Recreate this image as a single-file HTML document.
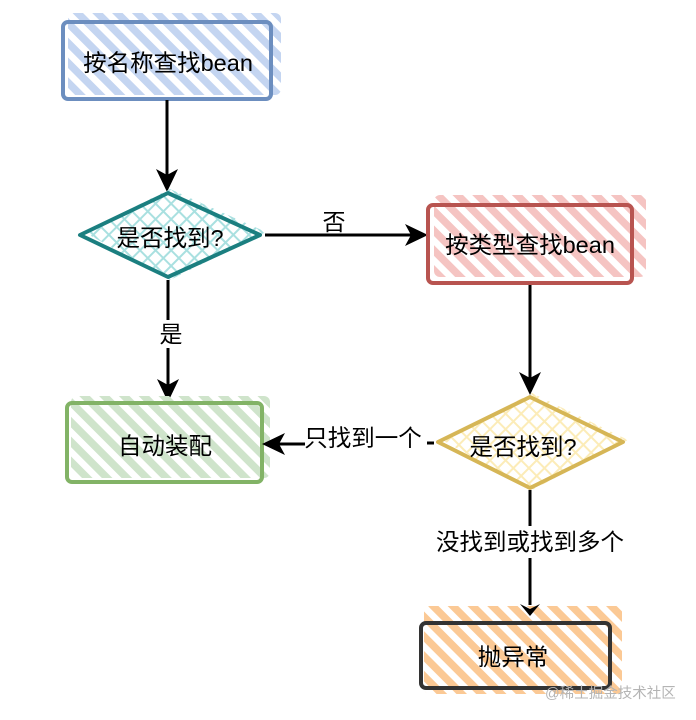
<!DOCTYPE html>
<html>
<head>
<meta charset="utf-8">
<style>
html,body{margin:0;padding:0;background:#fff;}
svg{display:block;}
text{font-family:"Liberation Sans","Noto Sans CJK SC",sans-serif;fill:#000;}
</style>
</head>
<body>
<svg width="696" height="720" viewBox="0 0 696 720" xmlns="http://www.w3.org/2000/svg">
<defs>
  <pattern id="pBlue" patternUnits="userSpaceOnUse" width="14" height="14" patternTransform="rotate(-45)">
    <rect x="0" y="0" width="7.5" height="14" fill="#c4d5f1"/>
  </pattern>
  <pattern id="pRed" patternUnits="userSpaceOnUse" width="14" height="14" patternTransform="rotate(-45)">
    <rect x="0" y="0" width="7.5" height="14" fill="#f5c4c2"/>
  </pattern>
  <pattern id="pGreen" patternUnits="userSpaceOnUse" width="14" height="14" patternTransform="rotate(-45)">
    <rect x="0" y="0" width="7.5" height="14" fill="#cfe4cb"/>
  </pattern>
  <pattern id="pOrange" patternUnits="userSpaceOnUse" width="14" height="14" patternTransform="rotate(-45)">
    <rect x="0" y="0" width="7.5" height="14" fill="#fbc995"/>
  </pattern>
  <pattern id="pTeal" patternUnits="userSpaceOnUse" width="11" height="11" patternTransform="rotate(45)">
    <rect x="0" y="0" width="2" height="11" fill="#a9e0e0"/>
    <rect x="0" y="0" width="11" height="2" fill="#a9e0e0"/>
  </pattern>
  <pattern id="pYellow" patternUnits="userSpaceOnUse" width="11" height="11" patternTransform="rotate(45)">
    <rect x="0" y="0" width="2" height="11" fill="#fcecb8"/>
    <rect x="0" y="0" width="11" height="2" fill="#fcecb8"/>
  </pattern>
</defs>

<!-- Box 1: 按名称查找bean -->
<rect x="68" y="13" width="213" height="82" rx="6" fill="url(#pBlue)"/>
<rect x="63" y="22" width="208" height="77" rx="5" fill="none" stroke="#6c8ebf" stroke-width="4"/>
<text x="168" y="63" font-size="23.5" text-anchor="middle" dominant-baseline="central">按名称查找bean</text>

<!-- Arrow 1 down -->
<line x1="167" y1="100" x2="167" y2="180" stroke="#000" stroke-width="3"/>
<polygon points="167,192 156,169 167,175 178,169" fill="#000"/>

<!-- Diamond 1 -->
<polygon points="170,189 266,232 170,280 84,232" fill="url(#pTeal)"/>
<polygon points="168,193 260,235 168,277 80,235" fill="none" stroke="#1b7f80" stroke-width="4" stroke-linejoin="round"/>
<text x="170" y="238" font-size="23.5" text-anchor="middle" dominant-baseline="central">是否找到?</text>

<!-- Arrow 否 -->
<line x1="265" y1="235" x2="415" y2="235" stroke="#000" stroke-width="3"/>
<polygon points="428,235 405,224 411,235 405,246" fill="#000"/>
<text x="334" y="222" font-size="23" text-anchor="middle" dominant-baseline="central">否</text>

<!-- Red box -->
<rect x="434" y="195" width="212" height="82" rx="6" fill="url(#pRed)"/>
<rect x="428" y="205" width="204" height="78" rx="5" fill="none" stroke="#b85450" stroke-width="4"/>
<text x="530" y="245" font-size="23.5" text-anchor="middle" dominant-baseline="central">按类型查找bean</text>

<!-- Arrow 是 down -->
<line x1="168" y1="280" x2="168" y2="390" stroke="#000" stroke-width="3"/>
<rect x="158" y="320" width="24" height="28" fill="#fff"/>
<text x="171" y="334" font-size="23" text-anchor="middle" dominant-baseline="central">是</text>
<polygon points="168,402 157,379 168,385 179,379" fill="#000"/>

<!-- Green box -->
<rect x="71" y="396" width="199" height="82" rx="6" fill="url(#pGreen)"/>
<rect x="67" y="403" width="195" height="79" rx="5" fill="none" stroke="#82b366" stroke-width="4"/>
<text x="165" y="446" font-size="23.5" text-anchor="middle" dominant-baseline="central">自动装配</text>

<!-- Arrow red -> yellow -->
<line x1="530" y1="285" x2="530" y2="383" stroke="#000" stroke-width="3"/>
<polygon points="530,395 519,372 530,378 541,372" fill="#000"/>

<!-- Yellow diamond -->
<polygon points="532,393 628,440 532,490 442,440" fill="url(#pYellow)"/>
<polygon points="530,397 623,442 530,488 438,442" fill="none" stroke="#d6b656" stroke-width="4" stroke-linejoin="round"/>
<text x="523" y="447" font-size="23.5" text-anchor="middle" dominant-baseline="central">是否找到?</text>

<!-- Arrow 只找到一个 -->
<line x1="427" y1="443" x2="434" y2="443" stroke="#000" stroke-width="3"/>
<line x1="274" y1="444" x2="305" y2="444" stroke="#000" stroke-width="3"/>
<polygon points="262,444 285,433 279,444 285,455" fill="#000"/>
<text x="363" y="438" font-size="23.5" text-anchor="middle" dominant-baseline="central">只找到一个</text>

<!-- Arrow yellow -> orange -->
<line x1="530" y1="490" x2="530" y2="605" stroke="#000" stroke-width="3"/>
<rect x="432" y="526" width="198" height="32" fill="#fff"/>
<text x="530" y="542" font-size="23.5" text-anchor="middle" dominant-baseline="central">没找到或找到多个</text>

<!-- Orange box -->
<rect x="424" y="606" width="198" height="88" rx="6" fill="url(#pOrange)"/>
<polygon points="530,616 520,604 530,609 540,604" fill="#000"/>
<rect x="421" y="623" width="189" height="65" rx="5" fill="none" stroke="#333" stroke-width="4"/>
<text x="513" y="657" font-size="23.5" text-anchor="middle" dominant-baseline="central">抛异常</text>

<!-- watermark -->
<text x="545" y="698" font-size="14.5" style="fill:#b4b4b4">@稀土掘金技术社区</text>
</svg>
</body>
</html>
